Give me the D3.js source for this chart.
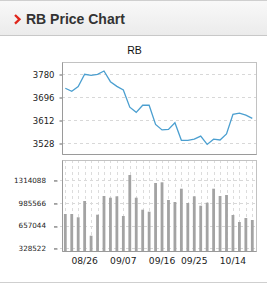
<!DOCTYPE html>
<html>
<head>
<meta charset="utf-8">
<script src="https://cdn.jsdelivr.net/npm/d3@7"></script>
<style>
  body { margin: 0; background: #fff; }
  svg { display: block; }
</style>
</head>
<body>
<script>
// chart data
var priceValues = [3729, 3718, 3735, 3780, 3776, 3780, 3792, 3753, 3736, 3723,
  3660, 3641, 3667, 3667, 3597, 3577, 3579, 3603, 3539, 3539,
  3543, 3554, 3524, 3543, 3540, 3562, 3634, 3638, 3631, 3619];
var volumeValues = [825666, 825666, 777836, 1014088, 511146, 815522, 1086558, 1061918, 1082210, 796678,
  1390932, 1061918, 887990, 859002, 1274980, 1285126, 1028582, 999594, 1192364, 985100,
  1082210, 945966, 989448, 1192364, 1086558, 1101052, 811172, 709714, 767690, 738702];
var priceTicks = [3528, 3612, 3696, 3780];
var volumeTicks = [328522, 657044, 985566, 1314088];
var dateLabels = ["08/26", "09/07", "09/16", "09/25", "10/14"];
var dateIndex = [3, 9, 15, 20, 26];

var width = 267, height = 283;

var svg = d3.select("body").append("svg")
  .attr("width", width)
  .attr("height", height);

// header
var defs = svg.append("defs");
var grad = defs.append("linearGradient")
  .attr("id", "hdr").attr("x1", 0).attr("y1", 0).attr("x2", 0).attr("y2", 1);
grad.append("stop").attr("offset", "0%").attr("stop-color", "#f9f9f9");
grad.append("stop").attr("offset", "100%").attr("stop-color", "#ebebeb");

svg.append("rect").attr("x", 0).attr("y", 0).attr("width", width).attr("height", 36)
  .attr("fill", "url(#hdr)");
svg.append("line").attr("x1", 0).attr("x2", width).attr("y1", 0.5).attr("y2", 0.5)
  .attr("stroke", "#cfcfcf");
svg.append("line").attr("x1", 0).attr("x2", width).attr("y1", 35.5).attr("y2", 35.5)
  .attr("stroke", "#c8c8c8");
svg.append("path")
  .attr("d", "M15,15 L19.5,19.3 L15,23.6")
  .attr("fill", "none")
  .attr("stroke", "#e0261b")
  .attr("stroke-width", 2.3);
svg.append("text")
  .attr("x", 26).attr("y", 24)
  .attr("font-family", "Liberation Sans, Arial, sans-serif")
  .attr("font-size", 14).attr("font-weight", "bold")
  .attr("fill", "#333")
  .text("RB Price Chart");

// bottom border
svg.append("line").attr("x1", 0).attr("x2", width).attr("y1", 282.5).attr("y2", 282.5)
  .attr("stroke", "#cfcfcf");

svg.append("text")
  .attr("x", 134.5).attr("y", 54)
  .attr("text-anchor", "middle")
  .attr("font-family", "Liberation Sans, Arial, sans-serif")
  .attr("font-size", 10.5)
  .attr("fill", "#111")
  .text("RB");

// panels
var pricePanel = {x0: 62, x1: 256, y0: 62, y1: 154};
var volPanel = {x0: 62, x1: 256, y0: 160, y1: 251};

var x = d3.scaleLinear().domain([0, priceValues.length - 1]).range([65.3, 252.3]);
var yPrice = d3.scaleLinear().domain([3528, 3780]).range([143.3, 74.3]);
var yVol = d3.scaleLinear().domain([328522, 1314088]).range([248.3, 180.3]);

function drawFrame(p) {
  svg.append("rect")
    .attr("x", p.x0 + 0.5).attr("y", p.y0 + 0.5)
    .attr("width", p.x1 - p.x0).attr("height", p.y1 - p.y0)
    .attr("fill", "none").attr("stroke", "#c2c2c2");
  svg.append("path")
    .attr("d", `M${p.x0 + 0.5},${p.y0 + 0.5} V${p.y1 + 0.5} H${p.x1 + 0.5}`)
    .attr("fill", "none").attr("stroke", "#9a9a9a");
}

// price panel gridlines
svg.append("g")
  .selectAll("line")
  .data(priceTicks)
  .enter().append("line")
  .attr("x1", pricePanel.x0).attr("x2", pricePanel.x1)
  .attr("y1", d => Math.round(yPrice(d)) + 0.5)
  .attr("y2", d => Math.round(yPrice(d)) + 0.5)
  .attr("stroke", "#d8d8d8")
  .attr("stroke-dasharray", "3,3");

// price axis
var priceAxis = svg.append("g")
  .attr("transform", `translate(${pricePanel.x0 + 0.5},0)`)
  .call(d3.axisLeft(yPrice).tickValues(priceTicks).tickSize(3).tickPadding(5).tickFormat(d3.format("d")));
priceAxis.select(".domain").remove();
priceAxis.selectAll("line").attr("stroke", "#666").attr("transform", d => `translate(0,${Math.round(yPrice(d)) + 0.5 - yPrice(d)})`);
priceAxis.selectAll("text")
  .attr("font-family", "DejaVu Sans, Verdana, sans-serif")
  .attr("font-size", 8.5)
  .attr("fill", "#222");

drawFrame(pricePanel);

// price line
var line = d3.line()
  .x((d, i) => x(i))
  .y(d => yPrice(d));

svg.append("path")
  .datum(priceValues)
  .attr("d", line)
  .attr("fill", "none")
  .attr("stroke", "#4b9fd0")
  .attr("stroke-width", 1.3);

// volume panel gridlines
svg.append("g")
  .selectAll("line")
  .data(volumeTicks)
  .enter().append("line")
  .attr("x1", 54).attr("x2", volPanel.x1)
  .attr("y1", d => Math.round(yVol(d)) + 0.5)
  .attr("y2", d => Math.round(yVol(d)) + 0.5)
  .attr("stroke", "#d8d8d8")
  .attr("stroke-dasharray", "3,3");

svg.append("g")
  .selectAll("line")
  .data(volumeValues)
  .enter().append("line")
  .attr("x1", (d, i) => Math.round(x(i)) + 0.5)
  .attr("x2", (d, i) => Math.round(x(i)) + 0.5)
  .attr("y1", volPanel.y0).attr("y2", volPanel.y1)
  .attr("stroke", "#dcdcdc")
  .attr("stroke-dasharray", "3,3");

// volume axis
var volAxis = svg.append("g")
  .attr("transform", `translate(57.5,0)`)
  .call(d3.axisLeft(yVol).tickValues(volumeTicks).tickSize(3.5).tickPadding(8).tickFormat(d3.format("d")));
volAxis.select(".domain").remove();
volAxis.selectAll("line").attr("stroke", "#666").attr("transform", d => `translate(0,${Math.round(yVol(d)) + 0.5 - yVol(d)})`);
volAxis.selectAll("text")
  .attr("font-family", "DejaVu Sans, Verdana, sans-serif")
  .attr("font-size", 7.2)
  .attr("fill", "#222");

// volume bars
svg.append("g")
  .selectAll("rect")
  .data(volumeValues)
  .enter().append("rect")
  .attr("x", (d, i) => x(i) - 1.4)
  .attr("width", 2.8)
  .attr("y", d => yVol(d))
  .attr("height", d => volPanel.y1 - yVol(d))
  .attr("fill", "#a3a3a3");

drawFrame(volPanel);

// date labels
svg.append("g")
  .selectAll("text")
  .data(dateLabels)
  .enter().append("text")
  .attr("x", (d, i) => x(dateIndex[i]))
  .attr("y", 264)
  .attr("text-anchor", "middle")
  .attr("font-family", "DejaVu Sans, Verdana, sans-serif")
  .attr("font-size", 9.2)
  .attr("fill", "#222")
  .text(d => d);
</script>
</body>
</html>
